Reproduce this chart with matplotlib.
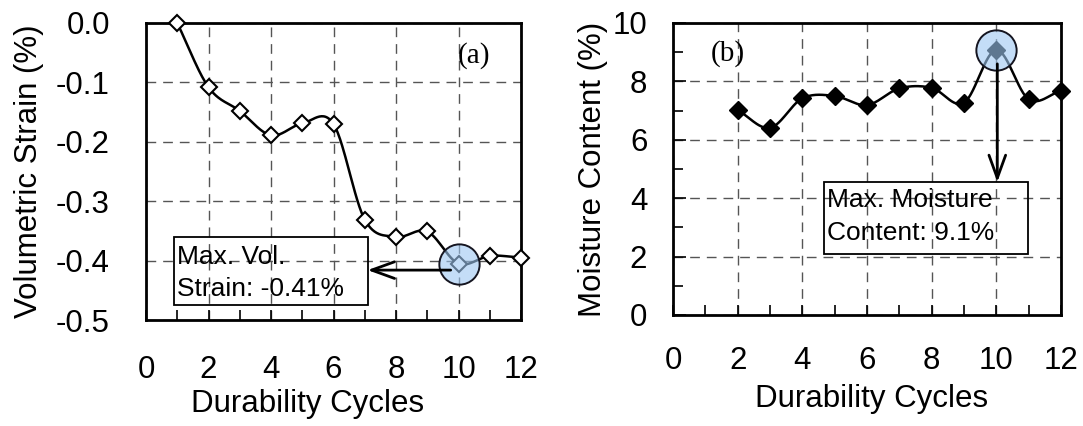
import numpy as np
import matplotlib
matplotlib.use("Agg")
import matplotlib.pyplot as plt
from matplotlib.patches import Rectangle
from matplotlib.ticker import MultipleLocator

plt.rcParams['font.family'] = ['Liberation Sans', 'DejaVu Sans']

# ---- data ----
cycles_a = [1, 2, 3, 4, 5, 6, 7, 8, 9, 10, 11, 12]
strain = [0.0, -0.108, -0.148, -0.189, -0.169, -0.170, -0.331, -0.360, -0.351, -0.405, -0.392, -0.395]

cycles_b = [2, 3, 4, 5, 6, 7, 8, 9, 10, 11, 12]
moisture = [7.02, 6.41, 7.42, 7.50, 7.19, 7.76, 7.78, 7.27, 9.08, 7.39, 7.68]

xticks = [0, 2, 4, 6, 8, 10, 12]
yticks_a = [0.0, -0.1, -0.2, -0.3, -0.4, -0.5]
yticks_b = [0, 2, 4, 6, 8, 10]

W, H = 1083, 426
fig = plt.figure(figsize=(W / 100, H / 100), dpi=100)


def smooth(x, y, n=30):
    # Catmull-Rom rendering of the line through the data points
    x = np.asarray(x, float)
    y = np.asarray(y, float)
    P = np.column_stack([x, y])
    P = np.vstack([P[0] + (P[0] - P[1]), P, P[-1] + (P[-1] - P[-2])])
    out = []
    t = np.linspace(0, 1, n)[:, None]
    for i in range(1, len(P) - 2):
        p0, p1, p2, p3 = P[i - 1], P[i], P[i + 1], P[i + 2]
        seg = 0.5 * ((2 * p1) + (-p0 + p2) * t + (2 * p0 - 5 * p1 + 4 * p2 - p3) * t ** 2
                     + (-p0 + 3 * p1 - 3 * p2 + p3) * t ** 3)
        out.append(seg if i == 1 else seg[1:])
    out = np.vstack(out)
    return out[:, 0], out[:, 1]


def px_axes(l, t, r, b):
    return fig.add_axes([l / W, 1 - b / H, (r - l) / W, (b - t) / H])


FS = 22.5
BFS = 19
grid_kw = dict(color='#555555', linestyle=(0, (7, 5)), linewidth=1.0)
arrow_kw = dict(arrowstyle='->,head_length=0.55,head_width=0.2', lw=2, color='black',
                mutation_scale=30, shrinkA=0, shrinkB=0)

# ---------------- panel (a) ----------------
ax1 = px_axes(146, 23, 521, 320)
ax1.set_xlim(0, 12)
ax1.set_ylim(-0.5, 0.0)
ax1.set_xticks(xticks)
ax1.xaxis.set_minor_locator(MultipleLocator(1))
ax1.set_yticks(yticks_a)
ax1.set_yticklabels([f"{v:.1f}" for v in yticks_a])
ax1.grid(True, which='major', **grid_kw)
ax1.tick_params(axis='x', which='both', direction='in', length=7, width=1.2, pad=25, labelsize=FS)
ax1.tick_params(axis='y', which='both', direction='in', length=0, pad=26, labelsize=FS)
for s in ax1.spines.values():
    s.set_linewidth(2.0)
ax1.set_xlabel('Durability Cycles', fontsize=FS)
ax1.xaxis.set_label_coords(0.43, -0.232)
ax1.set_ylabel('Volumetric Strain (%)', fontsize=FS)
ax1.yaxis.set_label_coords(-0.272, 0.5)

sx, sy = smooth(cycles_a, strain)
ax1.plot(sx, sy, color='black', lw=1.8, zorder=3, clip_on=False)
ax1.plot(cycles_a, strain, linestyle='none', marker='D', ms=8, mfc='white', mec='black',
         mew=1.5, zorder=4, clip_on=False)
imax = int(np.argmin(strain))
ax1.plot([cycles_a[imax]], [strain[imax]], 'o', ms=29, mfc=(0.62, 0.78, 0.95, 0.6),
         mec='#151520', mew=1.4, zorder=5)
ax1.annotate('', xy=(7.09, -0.416), xytext=(9.75, -0.416), arrowprops=arrow_kw, zorder=6)
ax1.add_patch(Rectangle((0.88, -0.475), 7.09 - 0.88, 0.115, fill=False, ec='black', lw=1.3, zorder=6))
ax1.text(0.98, -0.394, 'Max. Vol.', fontsize=BFS, va='center', ha='left', zorder=7)
ax1.text(0.98, -0.448, 'Strain: -0.41%', fontsize=BFS, va='center', ha='left', zorder=7)
ax1.text(10.5, -0.055, '(a)', fontsize=21, family='Liberation Serif', ha='center', va='center')

# ---------------- panel (b) ----------------
ax2 = px_axes(673, 23, 1061, 315)
ax2.set_xlim(0, 12)
ax2.set_ylim(0, 10)
ax2.set_xticks(xticks)
ax2.xaxis.set_minor_locator(MultipleLocator(1))
ax2.set_yticks(yticks_b)
ax2.yaxis.set_minor_locator(MultipleLocator(1))
ax2.grid(True, which='major', **grid_kw)
ax2.tick_params(axis='x', which='both', direction='in', length=7, width=1.2, pad=22, labelsize=FS)
ax2.tick_params(axis='y', which='major', direction='in', length=9, width=1.2, pad=18.5, labelsize=FS)
ax2.tick_params(axis='y', which='minor', direction='in', length=7, width=1.2)
for s in ax2.spines.values():
    s.set_linewidth(2.0)
ax2.set_xlabel('Durability Cycles', fontsize=FS)
ax2.xaxis.set_label_coords(0.513, -0.236)
ax2.set_ylabel('Moisture Content (%)', fontsize=FS)
ax2.yaxis.set_label_coords(-0.168, 0.5)

mx, my = smooth(cycles_b, moisture)
ax2.plot(mx, my, color='black', lw=1.8, zorder=3, clip_on=False)
ax2.plot(cycles_b, moisture, linestyle='none', marker='D', ms=9, mfc='black', mec='black',
         zorder=4, clip_on=False)
jmax = int(np.argmax(moisture))
ax2.plot([cycles_b[jmax]], [moisture[jmax]], 'o', ms=29, mfc=(0.62, 0.78, 0.95, 0.6),
         mec='#151520', mew=1.4, zorder=5)
ax2.annotate('', xy=(10.03, 4.55), xytext=(10.03, 8.6), arrowprops=arrow_kw, zorder=6)
ax2.add_patch(Rectangle((4.66, 2.09), 10.99 - 4.66, 4.55 - 2.09, fill=False, ec='black', lw=1.3, zorder=6))
ax2.text(4.76, 3.94, 'Max. Moisture', fontsize=BFS, va='center', ha='left', zorder=7)
ax2.text(4.76, 2.81, 'Content: 9.1%', fontsize=BFS, va='center', ha='left', zorder=7)
ax2.text(1.7, 8.95, '(b)', fontsize=21, family='Liberation Serif', ha='center', va='center')

fig.savefig('out.png', dpi=100)
